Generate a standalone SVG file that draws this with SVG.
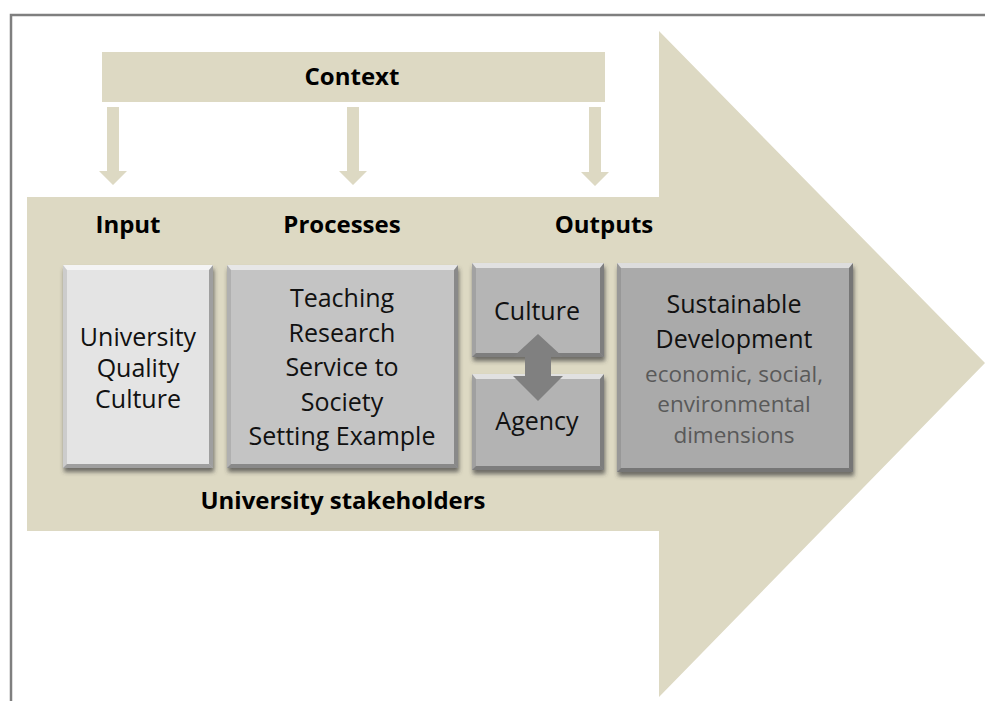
<svg xmlns="http://www.w3.org/2000/svg" width="985" height="701" viewBox="0 0 985 701">
<defs>
<style>
.tan{fill:#ddd9c3}
.lbl{font-family:"Open Sans","Liberation Sans",sans-serif;font-weight:bold;font-size:24px;fill:#000;text-anchor:middle}
.bt{font-family:"Open Sans","Liberation Sans",sans-serif;font-size:25px;fill:#111;text-anchor:middle}
.gt{font-family:"Open Sans","Liberation Sans",sans-serif;font-size:22.5px;fill:#595959;text-anchor:middle}
.hi{fill:#fff;opacity:0.6}
.dk{fill:#000;opacity:0.3}
.dk2{fill:#000;opacity:0.1}
.frame{stroke:#7f7f7f;stroke-width:2.5;fill:none}
</style>
<filter id="sh" x="-10%" y="-10%" width="130%" height="130%">
<feDropShadow dx="1" dy="4" stdDeviation="2" flood-color="#3a3a3a" flood-opacity="0.7"/>
</filter>
</defs>
<rect width="985" height="701" fill="#fff"/>
<path class="frame" d="M11 701 V15 H985"/>

<g id="main-arrow">
<polygon class="tan" points="27,197 659,197 659,31 985,363 659,697 659,531 27,531"/>
</g>

<g id="context">
<rect class="tan" x="102" y="52" width="503" height="50"/>
<text class="lbl" x="352" y="85">Context</text>
</g>

<g id="connectors">
<polygon class="tan" points="107,107 119,107 119,171 127,171 113,185 99,171 107,171"/>
<polygon class="tan" points="347,107 359,107 359,171 367,171 353,185 339,171 347,171"/>
<polygon class="tan" points="589,107 601,107 601,172 609,172 595,186 581,172 589,172"/>
</g>

<g id="headings">
<text class="lbl" x="128" y="233">Input</text>
<text class="lbl" x="342" y="233">Processes</text>
<text class="lbl" x="604" y="233">Outputs</text>
<text class="lbl" x="343" y="509" textLength="285" lengthAdjust="spacingAndGlyphs">University stakeholders</text>
</g>

<g id="input-box">
<rect x="63" y="265" width="150" height="203" fill="#e4e4e4" filter="url(#sh)"/>
<polygon class="hi" points="63,265 213,265 209,270 67,270"/>
<polygon class="dk" points="213,265 213,468 209,464 209,270"/>
<polygon class="dk2" points="63,265 67,270 67,464 63,468"/>
<polygon class="dk" points="63,468 213,468 209,464 67,464"/>
<text class="bt" x="138" y="346">University</text>
<text class="bt" x="138" y="377">Quality</text>
<text class="bt" x="138" y="408">Culture</text>
</g>

<g id="processes-box">
<rect x="227" y="265" width="231" height="203" fill="#c4c4c4" filter="url(#sh)"/>
<polygon class="hi" points="227,265 458,265 454,270 231,270"/>
<polygon class="dk" points="458,265 458,468 454,464 454,270"/>
<polygon class="dk2" points="227,265 231,270 231,464 227,468"/>
<polygon class="dk" points="227,468 458,468 454,464 231,464"/>
<text class="bt" x="342" y="307">Teaching</text>
<text class="bt" x="342" y="342">Research</text>
<text class="bt" x="342" y="376">Service to</text>
<text class="bt" x="342" y="411">Society</text>
<text class="bt" x="342" y="445">Setting Example</text>
</g>

<g id="culture-box">
<rect x="472" y="263" width="132" height="94" fill="#b5b5b5" filter="url(#sh)"/>
<polygon class="hi" points="472,263 604,263 600,268 476,268"/>
<polygon class="dk" points="604,263 604,357 600,353 600,268"/>
<polygon class="dk2" points="472,263 476,268 476,353 472,357"/>
<polygon class="dk" points="472,357 604,357 600,353 476,353"/>
<text class="bt" x="537" y="320">Culture</text>
</g>

<g id="agency-box">
<rect x="472" y="374" width="132" height="96" fill="#b3b3b3" filter="url(#sh)"/>
<polygon class="hi" points="472,374 604,374 600,379 476,379"/>
<polygon class="dk" points="604,374 604,470 600,466 600,379"/>
<polygon class="dk2" points="472,374 476,379 476,466 472,470"/>
<polygon class="dk" points="472,470 604,470 600,466 476,466"/>
<text class="bt" x="537" y="430">Agency</text>
</g>

<g id="culture-agency-link">
<polygon fill="#808080" points="538,334 563,357 551,357 551,376 563,376 538,401 513,376 525,376 525,357 513,357"/>
</g>

<g id="sustainable-box">
<rect x="617" y="263" width="236" height="209" fill="#aaaaaa" filter="url(#sh)"/>
<polygon class="hi" points="617,263 853,263 849,268 621,268"/>
<polygon class="dk" points="853,263 853,472 849,468 849,268"/>
<polygon class="dk2" points="617,263 621,268 621,468 617,472"/>
<polygon class="dk" points="617,472 853,472 849,468 621,468"/>
<text class="bt" x="734" y="313">Sustainable</text>
<text class="bt" x="734" y="348">Development</text>
<text class="gt" x="734" y="382">economic, social,</text>
<text class="gt" x="734" y="412">environmental</text>
<text class="gt" x="734" y="443">dimensions</text>
</g>
</svg>
